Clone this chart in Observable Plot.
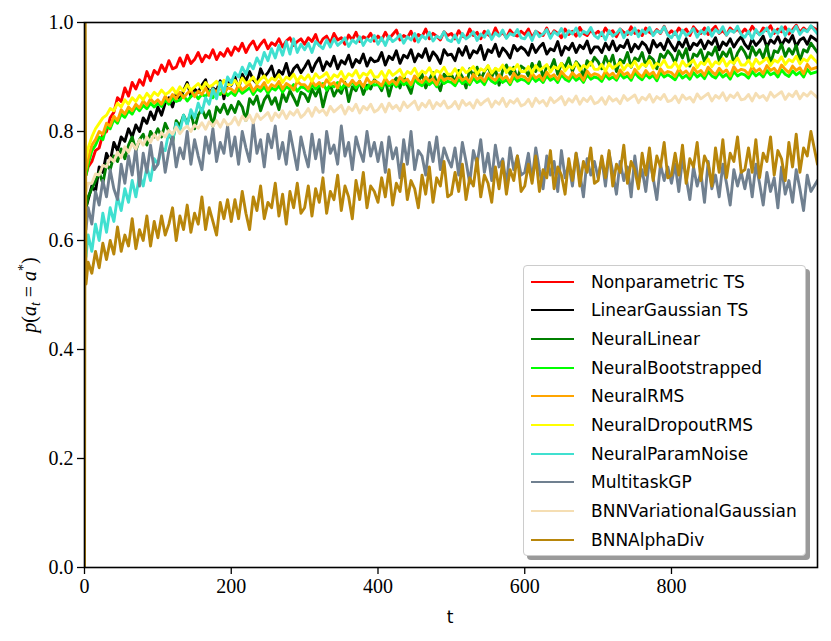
<!DOCTYPE html>
<html>
<head>
<meta charset="utf-8">
<script src="https://cdn.jsdelivr.net/npm/d3@7"></script>
<script src="https://cdn.jsdelivr.net/npm/@observablehq/plot@0.6"></script>
<style>
  html, body { margin: 0; padding: 0; background: #fff; }
  #wrap { position: relative; width: 831px; height: 641px; }
  #legend {
    position: absolute; left: 523px; top: 265px; width: 281px; height: 289px;
    background: #fff; border: 1px solid #cccccc; border-radius: 4px;
    box-shadow: 4px 4px 0 #9a9a9a;
    font-family: "DejaVu Sans", sans-serif; font-size: 17px; color: #000;
    box-sizing: content-box;
  }
  .row { position: absolute; left: 0; height: 28px; display: flex; align-items: center; }
  .sw { width: 43px; height: 0; border-top: 2.7px solid; margin-left: 7px; margin-right: 17px; }
</style>
</head>
<body>
<div id="wrap"></div>
<script>
// time steps shared by all series
const T = [2, ...d3.range(5, 995, 5), 999];

const names = ["Nonparametric TS", "LinearGaussian TS", "NeuralLinear", "NeuralBootstrapped",
  "NeuralRMS", "NeuralDropoutRMS", "NeuralParamNoise", "MultitaskGP",
  "BNNVariationalGaussian", "BNNAlphaDiv"];
const colors = ["#ff0000", "#000000", "#008000", "#00ff00", "#ffa500", "#ffff00",
  "#40e0d0", "#708090", "#f5deb3", "#b8860b"];

const nonparametricTS = [
.72,.735,.745,.765,.77,.795,.80,.825,.835,.862,.855,.88,.865,.89,.878,.895,.885,.91,.893,.912,
.905,.922,.91,.93,.915,.918,.935,.92,.94,.925,.932,.945,.928,.94,.935,.95,.932,.945,.938,.952,
.94,.955,.948,.962,.945,.958,.966,.95,.96,.968,.952,.963,.958,.97,.955,.966,.972,.958,.965,.97,
.96,.972,.965,.978,.958,.97,.975,.962,.98,.968,.972,.96,.977,.968,.982,.965,.974,.97,.98,.966,
.975,.968,.982,.97,.978,.986,.968,.976,.972,.984,.966,.978,.974,.988,.97,.98,.975,.968,.983,.976,
.98,.97,.985,.975,.972,.988,.976,.982,.97,.984,.978,.973,.99,.976,.982,.972,.986,.978,.975,.984,
.978,.988,.972,.984,.98,.976,.99,.974,.985,.98,.972,.988,.978,.984,.975,.991,.98,.976,.986,.978,
.984,.976,.99,.98,.985,.974,.988,.982,.978,.992,.98,.985,.976,.99,.982,.978,.987,.98,.993,.978,
.985,.978,.99,.982,.988,.976,.992,.984,.98,.99,.978,.986,.993,.98,.985,.977,.99,.983,.988,.98,
.988,.98,.993,.984,.978,.99,.985,.994,.98,.988,.983,.992,.979,.987,.995,.982,.99,.984,.993,.986];
const linearGaussianTS = [
.66,.675,.70,.69,.735,.725,.76,.745,.78,.765,.79,.782,.805,.79,.812,.80,.825,.815,.836,.822,
.845,.83,.852,.862,.845,.87,.858,.875,.89,.865,.878,.872,.885,.895,.868,.88,.875,.893,.86,.89,
.885,.90,.878,.905,.892,.91,.895,.888,.915,.90,.908,.92,.896,.912,.905,.925,.90,.915,.922,.908,
.918,.93,.91,.925,.935,.912,.928,.92,.938,.915,.93,.924,.94,.918,.932,.926,.942,.92,.935,.928,
.93,.945,.922,.938,.932,.948,.925,.94,.935,.95,.928,.942,.936,.952,.93,.946,.938,.925,.95,.94,
.942,.93,.952,.94,.956,.935,.948,.944,.958,.932,.95,.945,.96,.938,.953,.946,.935,.958,.948,.955,
.95,.94,.96,.945,.955,.962,.942,.952,.948,.965,.94,.956,.95,.962,.945,.958,.952,.966,.944,.955,
.955,.945,.962,.95,.966,.948,.958,.954,.968,.946,.96,.952,.964,.958,.944,.967,.955,.962,.95,.97,
.958,.948,.965,.955,.97,.95,.962,.958,.968,.952,.966,.96,.972,.95,.964,.958,.97,.955,.966,.974,
.96,.952,.97,.958,.965,.975,.955,.968,.962,.974,.958,.97,.964,.976,.956,.968,.972,.96,.975,.966];
const neuralLinear = [
.66,.68,.695,.71,.725,.705,.74,.73,.755,.745,.768,.75,.775,.79,.765,.785,.795,.775,.80,.79,
.805,.79,.815,.80,.78,.82,.81,.83,.815,.835,.805,.83,.842,.825,.838,.81,.845,.835,.85,.832,
.848,.835,.855,.845,.82,.86,.85,.865,.838,.858,.868,.85,.862,.84,.87,.855,.875,.862,.848,.872,
.868,.855,.878,.865,.88,.845,.872,.886,.865,.878,.87,.89,.855,.882,.875,.892,.868,.885,.878,.895,
.888,.875,.895,.865,.89,.898,.88,.902,.885,.87,.90,.892,.905,.88,.896,.908,.89,.875,.905,.898,
.905,.89,.912,.90,.88,.915,.902,.918,.895,.91,.92,.90,.915,.885,.912,.922,.905,.918,.895,.92,
.915,.902,.925,.91,.928,.898,.92,.915,.932,.905,.925,.918,.935,.91,.928,.92,.90,.93,.922,.936,
.928,.915,.938,.922,.94,.91,.932,.926,.945,.918,.935,.93,.945,.92,.938,.932,.915,.942,.935,.948,
.94,.925,.948,.935,.952,.92,.942,.938,.95,.928,.945,.94,.955,.93,.946,.938,.952,.925,.944,.955,
.945,.93,.955,.94,.95,.935,.958,.925,.948,.945,.96,.938,.952,.942,.958,.93,.95,.946,.962,.945];
const neuralBootstrapped = [
.72,.74,.765,.775,.79,.785,.81,.805,.822,.815,.832,.826,.838,.832,.845,.838,.848,.842,.852,.845,
.852,.846,.858,.85,.862,.855,.858,.866,.856,.864,.87,.86,.868,.864,.874,.862,.872,.868,.876,.866,
.872,.866,.878,.87,.875,.88,.868,.878,.874,.882,.87,.88,.876,.884,.872,.882,.878,.886,.874,.882,
.88,.874,.886,.878,.884,.888,.876,.886,.882,.89,.878,.886,.883,.892,.88,.888,.884,.878,.89,.885,
.886,.88,.892,.884,.89,.882,.894,.886,.89,.882,.895,.888,.884,.894,.886,.892,.882,.896,.888,.892,
.89,.884,.896,.888,.893,.886,.898,.89,.894,.886,.90,.892,.888,.898,.89,.895,.886,.90,.892,.896,
.894,.888,.90,.892,.897,.89,.902,.894,.898,.89,.904,.896,.892,.902,.894,.899,.89,.904,.896,.90,
.898,.892,.904,.896,.90,.894,.906,.898,.902,.894,.908,.90,.895,.905,.898,.903,.893,.908,.90,.904,
.90,.895,.907,.898,.903,.896,.908,.90,.905,.897,.91,.902,.898,.908,.90,.905,.896,.91,.902,.906,
.904,.898,.91,.902,.907,.90,.912,.904,.908,.90,.913,.905,.901,.911,.904,.909,.90,.914,.906,.91];
const neuralRMS = [
.73,.75,.775,.785,.80,.795,.815,.81,.828,.82,.84,.832,.845,.838,.85,.843,.856,.848,.86,.852,
.858,.85,.865,.855,.868,.86,.872,.862,.87,.876,.864,.874,.868,.88,.866,.878,.872,.884,.87,.88,
.878,.872,.886,.876,.882,.888,.874,.884,.88,.89,.876,.886,.882,.892,.878,.888,.884,.876,.892,.886,
.886,.878,.892,.884,.89,.882,.895,.886,.89,.88,.896,.888,.884,.894,.886,.892,.882,.898,.888,.893,
.89,.884,.898,.888,.894,.886,.90,.892,.896,.886,.902,.894,.89,.90,.892,.897,.886,.903,.894,.898,
.896,.89,.903,.894,.899,.89,.905,.896,.90,.892,.906,.898,.894,.904,.896,.901,.89,.907,.898,.902,
.90,.893,.907,.898,.903,.894,.909,.90,.904,.895,.91,.902,.897,.908,.90,.905,.894,.911,.902,.906,
.904,.897,.911,.902,.907,.898,.913,.904,.908,.899,.914,.906,.90,.912,.904,.909,.898,.915,.906,.91,
.908,.901,.915,.906,.911,.902,.917,.908,.912,.903,.918,.91,.904,.916,.908,.913,.902,.919,.91,.914,
.912,.905,.919,.91,.915,.906,.921,.912,.916,.907,.922,.914,.908,.92,.912,.917,.906,.923,.914,.918];
const neuralDropoutRMS = [
.75,.77,.79,.805,.815,.825,.83,.842,.838,.852,.845,.858,.85,.862,.855,.866,.858,.87,.862,.872,
.866,.876,.868,.872,.88,.87,.882,.874,.886,.876,.882,.888,.878,.89,.882,.886,.892,.88,.894,.886,
.886,.894,.884,.898,.888,.892,.90,.888,.896,.902,.89,.898,.894,.904,.89,.90,.896,.905,.892,.902,
.895,.904,.892,.906,.898,.902,.908,.894,.904,.90,.91,.896,.906,.902,.912,.898,.907,.903,.912,.90,
.90,.91,.898,.912,.903,.908,.914,.90,.91,.906,.916,.902,.911,.907,.917,.903,.912,.908,.918,.905,
.905,.915,.903,.917,.908,.913,.919,.905,.915,.911,.921,.907,.916,.912,.922,.908,.917,.913,.923,.91,
.91,.919,.907,.921,.912,.917,.923,.909,.919,.915,.925,.911,.92,.916,.926,.912,.921,.917,.927,.914,
.914,.923,.911,.925,.916,.921,.927,.913,.923,.919,.929,.915,.924,.92,.93,.916,.925,.921,.931,.918,
.918,.927,.915,.929,.92,.925,.931,.917,.927,.923,.933,.919,.928,.924,.934,.92,.929,.925,.935,.922,
.922,.931,.919,.933,.924,.929,.935,.921,.931,.927,.937,.923,.932,.928,.938,.924,.933,.929,.939,.926];
const neuralParamNoise = [
.57,.61,.58,.63,.60,.65,.615,.66,.635,.68,.655,.695,.67,.71,.68,.72,.70,.735,.71,.75,
.74,.77,.765,.80,.785,.815,.80,.83,.812,.84,.825,.852,.835,.862,.85,.878,.86,.89,.872,.90,
.89,.908,.90,.918,.905,.925,.915,.935,.922,.945,.93,.952,.935,.958,.94,.965,.942,.97,.945,.96,
.95,.962,.945,.965,.958,.952,.968,.955,.97,.958,.964,.972,.956,.968,.962,.974,.958,.97,.965,.976,
.96,.972,.958,.975,.965,.97,.978,.962,.974,.968,.98,.964,.976,.97,.982,.966,.975,.971,.983,.968,
.965,.977,.963,.98,.97,.975,.983,.967,.979,.973,.985,.969,.981,.975,.986,.971,.98,.976,.987,.972,
.97,.981,.967,.984,.974,.979,.987,.971,.983,.977,.989,.973,.985,.979,.99,.975,.984,.98,.991,.976,
.971,.982,.968,.985,.975,.98,.988,.972,.984,.978,.99,.974,.986,.98,.991,.976,.985,.981,.992,.977,
.972,.983,.969,.986,.976,.981,.989,.973,.985,.979,.991,.975,.987,.981,.992,.977,.986,.982,.993,.978,
.973,.984,.97,.987,.977,.982,.99,.974,.986,.98,.992,.976,.988,.982,.993,.978,.987,.983,.994,.979];
const multitaskGP = [
.62,.66,.63,.69,.665,.71,.68,.73,.695,.675,.74,.705,.755,.72,.77,.70,.76,.725,.775,.73,
.74,.78,.725,.765,.79,.735,.77,.75,.80,.74,.785,.755,.73,.79,.76,.805,.745,.78,.76,.81,
.755,.79,.74,.80,.77,.745,.815,.76,.785,.735,.795,.77,.81,.75,.78,.74,.80,.765,.73,.79,
.76,.735,.795,.75,.785,.725,.80,.76,.775,.74,.81,.755,.78,.73,.79,.765,.745,.80,.755,.78,
.745,.78,.725,.79,.75,.77,.715,.785,.74,.80,.73,.765,.755,.72,.78,.745,.79,.73,.77,.75,
.735,.77,.72,.78,.745,.705,.765,.74,.785,.725,.76,.71,.775,.735,.75,.70,.77,.73,.755,.72,
.725,.76,.71,.77,.73,.695,.755,.72,.745,.69,.765,.715,.74,.70,.76,.725,.68,.75,.72,.745,
.715,.75,.70,.76,.725,.685,.745,.71,.735,.68,.755,.705,.73,.69,.75,.715,.675,.74,.71,.735,
.705,.74,.69,.75,.715,.675,.735,.70,.725,.67,.745,.695,.72,.68,.74,.705,.665,.73,.70,.725,
.695,.73,.68,.74,.705,.665,.725,.69,.715,.66,.735,.685,.71,.67,.73,.695,.655,.72,.69,.71];
const bnnVariationalGaussian = [
.69,.705,.705,.722,.72,.738,.735,.752,.745,.762,.752,.772,.762,.778,.768,.785,.775,.79,.78,.795,
.785,.798,.79,.802,.795,.808,.796,.805,.81,.80,.812,.806,.816,.804,.818,.81,.82,.808,.822,.812,
.815,.826,.812,.828,.82,.83,.816,.832,.822,.828,.835,.82,.834,.826,.838,.824,.836,.83,.84,.826,
.832,.842,.828,.844,.835,.84,.83,.846,.836,.842,.848,.832,.845,.838,.85,.834,.846,.84,.85,.836,
.84,.85,.836,.852,.842,.848,.838,.854,.844,.85,.856,.84,.852,.845,.857,.842,.853,.847,.856,.843,
.846,.855,.842,.857,.848,.853,.843,.858,.849,.855,.86,.845,.856,.85,.861,.846,.857,.852,.86,.847,
.85,.859,.846,.861,.852,.857,.847,.862,.853,.858,.864,.849,.86,.854,.865,.85,.861,.855,.864,.851,
.854,.862,.85,.864,.856,.86,.851,.866,.857,.862,.867,.853,.863,.858,.868,.854,.864,.859,.868,.855,
.857,.865,.853,.867,.859,.863,.854,.869,.86,.865,.87,.856,.866,.861,.871,.857,.867,.862,.871,.858,
.86,.868,.856,.87,.862,.866,.857,.872,.863,.868,.873,.859,.869,.864,.874,.86,.87,.865,.873,.862];
const bnnAlphaDiv = [
.52,.56,.54,.58,.55,.595,.565,.60,.575,.625,.58,.61,.59,.64,.585,.62,.60,.645,.59,.635,
.605,.645,.61,.63,.66,.60,.645,.62,.665,.615,.65,.63,.68,.62,.66,.635,.61,.67,.64,.675,
.635,.675,.64,.69,.65,.62,.68,.655,.70,.64,.67,.66,.705,.645,.685,.63,.69,.66,.705,.65,
.66,.70,.645,.695,.67,.715,.65,.69,.675,.72,.655,.70,.68,.64,.71,.675,.725,.66,.70,.69,
.67,.715,.68,.73,.665,.705,.69,.74,.675,.71,.695,.66,.72,.685,.735,.67,.715,.70,.745,.68,
.685,.725,.69,.74,.675,.715,.70,.75,.68,.72,.705,.67,.735,.695,.745,.685,.73,.71,.755,.69,
.70,.74,.705,.755,.69,.73,.715,.765,.695,.735,.72,.685,.75,.71,.76,.70,.745,.725,.77,.705,
.71,.755,.715,.765,.70,.74,.725,.775,.705,.745,.73,.695,.76,.72,.77,.71,.755,.735,.78,.715,
.72,.76,.72,.775,.705,.75,.735,.78,.71,.755,.74,.70,.77,.725,.785,.715,.76,.745,.79,.725,
.73,.77,.725,.785,.715,.76,.745,.79,.72,.765,.75,.71,.78,.735,.795,.725,.77,.755,.80,.74];
// the very first steps of BNNAlphaDiv (spike at the origin)
const alphaDivStartT = [0, 1];
const alphaDivStartV = [0.0, 1.0];

const allValues = [nonparametricTS, linearGaussianTS, neuralLinear, neuralBootstrapped,
  neuralRMS, neuralDropoutRMS, neuralParamNoise, multitaskGP, bnnVariationalGaussian, bnnAlphaDiv];

const xTicks = [0, 200, 400, 600, 800];
const yTicks = [0, 0.2, 0.4, 0.6, 0.8, 1.0];

const seriesRows = allValues.map((vals, k) => {
  const rows = vals.map((v, i) => ({t: T[i], v}));
  if (k === 9) {
    const start = alphaDivStartT.map((t, i) => ({t, v: alphaDivStartV[i]}));
    return start.concat(rows);
  }
  return rows;
});

const chart = Plot.plot({
  width: 831, height: 641,
  marginLeft: 84, marginRight: 14, marginTop: 22, marginBottom: 74,
  style: {fontFamily: "'Liberation Serif', serif", fontSize: "20px", color: "#000", background: "#fff"},
  x: {domain: [0, 999]},
  y: {domain: [0, 1]},
  marks: [
    ...seriesRows.map((rows, k) => Plot.line(rows, {x: "t", y: "v", stroke: colors[k], strokeWidth: 2.9, clip: true})),
    Plot.frame({stroke: "#000", strokeWidth: 1.6}),
    Plot.axisX({ticks: xTicks, tickSize: 7, tickPadding: 4, label: null, tickFormat: d => String(d), strokeWidth: 1.3}),
    Plot.axisY({ticks: yTicks, tickSize: 7, tickPadding: 4, label: null, tickFormat: d => d.toFixed(1), strokeWidth: 1.3})
  ]
});

const wrap = document.getElementById("wrap");
wrap.appendChild(chart);

// axis labels
const svg = d3.select(chart);
svg.append("text")
  .attr("x", 450).attr("y", 623)
  .attr("text-anchor", "middle")
  .style("font-family", "'DejaVu Sans', sans-serif").style("font-size", "17px")
  .text("t");
const yl = svg.append("text")
  .attr("transform", "translate(36,295) rotate(-90)")
  .attr("text-anchor", "middle")
  .style("font-family", "'Liberation Serif', serif").style("font-size", "20px");
yl.append("tspan").style("font-style", "italic").text("p");
yl.append("tspan").text("(");
yl.append("tspan").style("font-style", "italic").text("a");
yl.append("tspan").style("font-style", "italic").style("font-size", "14px").attr("dy", 4).text("t");
yl.append("tspan").attr("dy", -4).text(" = ");
yl.append("tspan").style("font-style", "italic").text("a");
yl.append("tspan").style("font-size", "14px").attr("dy", -8).text("*");
yl.append("tspan").attr("dy", 8).text(")");

// legend
const legend = document.createElement("div");
legend.id = "legend";
names.forEach((n, i) => {
  const row = document.createElement("div");
  row.className = "row";
  row.style.top = (1.7 + 28.67 * i) + "px";
  const sw = document.createElement("div");
  sw.className = "sw";
  sw.style.borderTopColor = colors[i];
  const lab = document.createElement("span");
  lab.textContent = n;
  row.appendChild(sw); row.appendChild(lab);
  legend.appendChild(row);
});
wrap.appendChild(legend);
</script>
</body>
</html>
